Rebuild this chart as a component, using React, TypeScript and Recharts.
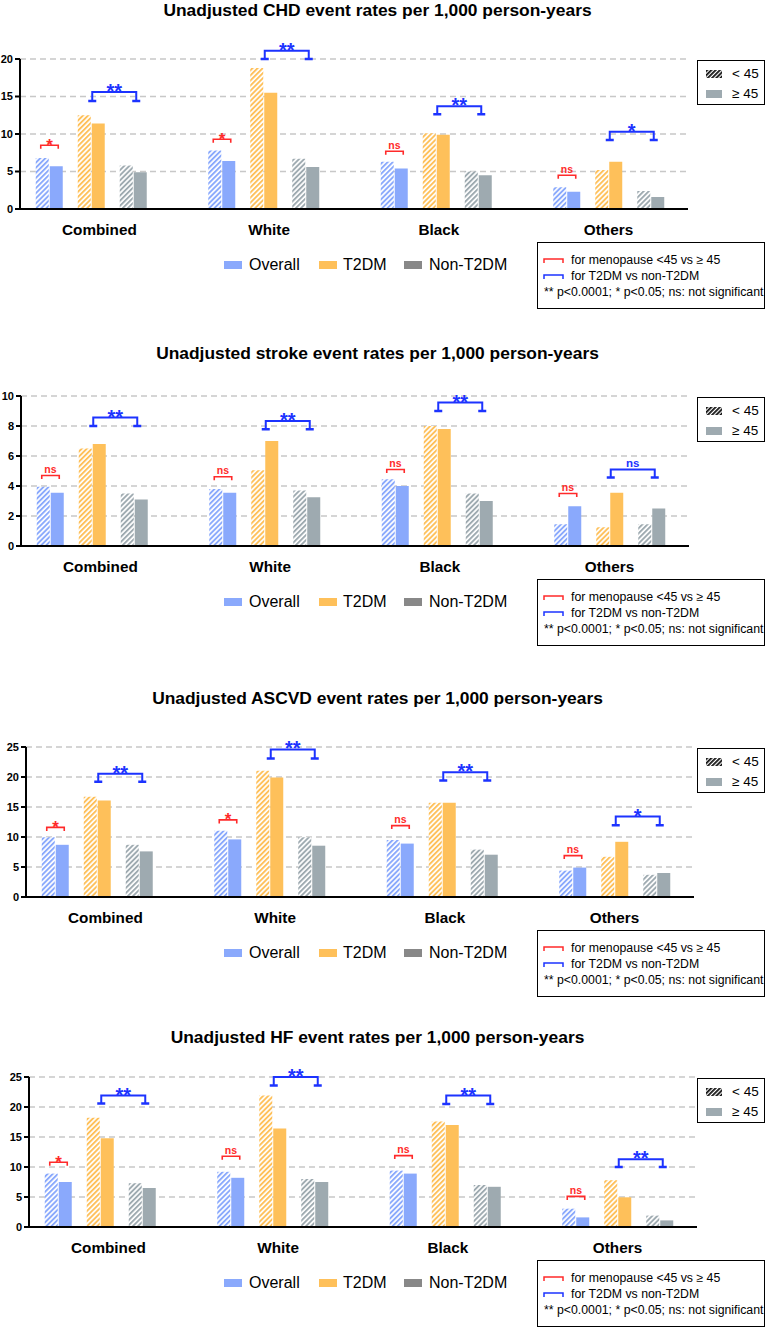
import React from 'react';
import { BarChart, Bar, XAxis, YAxis, CartesianGrid } from 'recharts';

const categories = ['Combined', 'White', 'Black', 'Others'];

// CHD event rates per 1,000 person-years
const chdOverallLt45 = [6.8, 7.8, 6.3, 2.9];
const chdOverallGe45 = [5.7, 6.4, 5.4, 2.3];
const chdT2dmLt45 = [12.5, 18.8, 10.1, 5.2];
const chdT2dmGe45 = [11.4, 15.5, 9.9, 6.3];
const chdNonLt45 = [5.8, 6.7, 5.0, 2.4];
const chdNonGe45 = [4.9, 5.6, 4.5, 1.6];
const chdMenoBracket = [8.5, 9.3, 7.7, 4.5];
const chdMenoSig = ['*', '*', 'ns', 'ns'];
const chdDmBracketTop = [15.6, 21.1, 13.7, 10.3];
const chdDmBracketFoot = [14.4, 20.0, 12.65, 9.2];
const chdDmSig = ['**', '**', '**', '*'];
const chdTicks = [0, 5, 10, 15, 20];

// Stroke
const strokeOverallLt45 = [3.95, 3.8, 4.45, 1.45];
const strokeOverallGe45 = [3.55, 3.55, 4.0, 2.65];
const strokeT2dmLt45 = [6.5, 5.05, 8.0, 1.25];
const strokeT2dmGe45 = [6.8, 7.0, 7.8, 3.55];
const strokeNonLt45 = [3.5, 3.7, 3.5, 1.45];
const strokeNonGe45 = [3.1, 3.25, 3.0, 2.5];
const strokeMenoBracket = [4.7, 4.62, 5.1, 3.5];
const strokeMenoSig = ['ns', 'ns', 'ns', 'ns'];
const strokeDmBracketTop = [8.56, 8.33, 9.56, 5.1];
const strokeDmBracketFoot = [8.0, 7.78, 9.0, 4.56];
const strokeDmSig = ['**', '**', '**', 'ns'];
const strokeTicks = [0, 2, 4, 6, 8, 10];

// ASCVD
const ascvdOverallLt45 = [9.95, 11.05, 9.5, 4.4];
const ascvdOverallGe45 = [8.7, 9.6, 8.9, 4.9];
const ascvdT2dmLt45 = [16.7, 21.05, 15.7, 6.7];
const ascvdT2dmGe45 = [16.1, 19.9, 15.7, 9.2];
const ascvdNonLt45 = [8.7, 9.95, 7.9, 3.7];
const ascvdNonGe45 = [7.6, 8.55, 7.05, 4.0];
const ascvdMenoBracket = [11.6, 12.85, 11.9, 6.9];
const ascvdMenoSig = ['*', '*', 'ns', 'ns'];
const ascvdDmBracketTop = [20.55, 24.6, 20.8, 13.4];
const ascvdDmBracketFoot = [19.2, 23.1, 19.4, 11.95];
const ascvdDmSig = ['**', '**', '**', '*'];
const ascvdTicks = [0, 5, 10, 15, 20, 25];

// HF
const hfOverallLt45 = [8.9, 9.2, 9.4, 3.05];
const hfOverallGe45 = [7.5, 8.2, 8.9, 1.6];
const hfT2dmLt45 = [18.2, 21.9, 17.6, 7.8];
const hfT2dmGe45 = [14.8, 16.4, 17.0, 4.95];
const hfNonLt45 = [7.3, 8.0, 7.0, 1.9];
const hfNonGe45 = [6.5, 7.5, 6.7, 1.1];
const hfMenoBracket = [10.8, 11.8, 11.9, 5.1];
const hfMenoSig = ['*', 'ns', 'ns', 'ns'];
const hfDmBracketTop = [21.9, 25.0, 21.9, 11.3];
const hfDmBracketFoot = [20.6, 23.6, 20.5, 10.0];
const hfDmSig = ['**', '**', '**', '**'];
const hfTicks = [0, 5, 10, 15, 20, 25];

const FONT = '"Liberation Sans", Arial, Helvetica, sans-serif';
const BLUE = '#8aa9fc';
const ORANGE = '#fec05a';
const GRAY = '#9eaab0';
const RED = '#ff2a2a';
const SIG_BLUE = '#1c33ff';
const BAR_GAP = 1;
const BAR_SIZE = 13;
const PLOT_W = 668;

const panels = [
  {
    id: 'chd', title: 'Unadjusted CHD event rates per 1,000 person-years', ticks: chdTicks,
    ovLo: chdOverallLt45, ovHi: chdOverallGe45, t2Lo: chdT2dmLt45, t2Hi: chdT2dmGe45, ntLo: chdNonLt45, ntHi: chdNonGe45,
    meno: chdMenoBracket, menoSig: chdMenoSig, dmTop: chdDmBracketTop, dmFoot: chdDmBracketFoot, dmSig: chdDmSig,
  },
  {
    id: 'stroke', title: 'Unadjusted stroke event rates per 1,000 person-years', ticks: strokeTicks,
    ovLo: strokeOverallLt45, ovHi: strokeOverallGe45, t2Lo: strokeT2dmLt45, t2Hi: strokeT2dmGe45, ntLo: strokeNonLt45, ntHi: strokeNonGe45,
    meno: strokeMenoBracket, menoSig: strokeMenoSig, dmTop: strokeDmBracketTop, dmFoot: strokeDmBracketFoot, dmSig: strokeDmSig,
  },
  {
    id: 'ascvd', title: 'Unadjusted ASCVD event rates per 1,000 person-years', ticks: ascvdTicks,
    ovLo: ascvdOverallLt45, ovHi: ascvdOverallGe45, t2Lo: ascvdT2dmLt45, t2Hi: ascvdT2dmGe45, ntLo: ascvdNonLt45, ntHi: ascvdNonGe45,
    meno: ascvdMenoBracket, menoSig: ascvdMenoSig, dmTop: ascvdDmBracketTop, dmFoot: ascvdDmBracketFoot, dmSig: ascvdDmSig,
  },
  {
    id: 'hf', title: 'Unadjusted HF event rates per 1,000 person-years', ticks: hfTicks,
    ovLo: hfOverallLt45, ovHi: hfOverallGe45, t2Lo: hfT2dmLt45, t2Hi: hfT2dmGe45, ntLo: hfNonLt45, ntHi: hfNonGe45,
    meno: hfMenoBracket, menoSig: hfMenoSig, dmTop: hfDmBracketTop, dmFoot: hfDmBracketFoot, dmSig: hfDmSig,
  },
];

// top = pixel of highest y tick, axisX = y axis line, titleY = title centre
const layouts = [
  { top: 59, axisX: 20, titleY: 10 },
  { top: 396, axisX: 21, titleY: 353 },
  { top: 747, axisX: 26, titleY: 698 },
  { top: 1077, axisX: 29, titleY: 1037 },
];

const CatTick = (props: any) => {
  const { x, y, payload, index } = props;
  return (
    <text x={x + (3 - index) * 2.8} y={y + 20} textAnchor="middle" dominantBaseline="central"
      fontWeight="bold" fontSize={15.3} fontFamily={FONT} fill="#000">
      {payload.value}
    </text>
  );
};

const yOf = (p: any, v: number) => p.y + p.height - (v * p.height) / p.value;

const Panel = ({ d, lay }: { d: any; lay: any }) => {
  const rows = categories.map((c, i) => ({
    name: c, ovLo: d.ovLo[i], ovHi: d.ovHi[i], t2Lo: d.t2Lo[i], t2Hi: d.t2Hi[i], ntLo: d.ntLo[i], ntHi: d.ntHi[i],
  }));
  const T = lay.top;
  const yMax = d.ticks[d.ticks.length - 1];

  const menoShape = (p: any) => {
    const i = categories.indexOf(p.payload.name);
    const yb = yOf(p, d.meno[i]);
    const x1 = p.x - BAR_GAP - p.width / 2 - 1.5;
    const x2 = p.x + p.width / 2 + 2;
    const lbl = d.menoSig[i];
    const star = lbl !== 'ns';
    return (
      <g>
        <rect x={p.x} y={p.y} width={p.width} height={p.height} fill={BLUE} />
        <path d={`M${x1},${yb + 3.5}V${yb}H${x2}V${yb + 3.5}`} fill="none" stroke={RED} strokeWidth={1.6} />
        <text x={(x1 + x2) / 2} y={star ? yb + 5.5 : yb - 2.5} textAnchor="middle" fill={RED}
          fontWeight="bold" fontSize={star ? 17 : 10.5} fontFamily={FONT}>{lbl}</text>
      </g>
    );
  };

  const dmShape = (p: any) => {
    const i = categories.indexOf(p.payload.name);
    const yt = yOf(p, d.dmTop[i]);
    const yf = yOf(p, d.dmFoot[i]);
    const nonC = p.x - BAR_GAP / 2;
    const c1 = nonC - 3 * (p.width + BAR_GAP) + 1;
    const c2 = nonC + 3;
    const lbl = d.dmSig[i];
    const star = lbl !== 'ns';
    return (
      <g>
        <rect x={p.x} y={p.y} width={p.width} height={p.height} fill={GRAY} />
        <path d={`M${c1},${yf}V${yt}H${c2}V${yf}`} fill="none" stroke={SIG_BLUE} strokeWidth={2} />
        <path d={`M${c1 - 4},${yf}H${c1 + 4}M${c2 - 4},${yf}H${c2 + 4}`} stroke={SIG_BLUE} strokeWidth={2.5} />
        <text x={(c1 + c2) / 2} y={star ? yt + 6 : yt - 3} textAnchor="middle" fill={SIG_BLUE}
          fontWeight="bold" fontSize={star ? 20 : 11.5} fontFamily={FONT}>{lbl}</text>
      </g>
    );
  };

  const hatch = (name: string, color: string) => (
    <pattern key={name} id={`${d.id}-${name}`} width={3.6} height={3.6} patternUnits="userSpaceOnUse"
      patternTransform="rotate(45)">
      <rect width={3.6} height={3.6} fill="#fff" />
      <rect width={1.9} height={3.6} fill={color} />
    </pattern>
  );

  return (
    <>
      <div style={{
        position: 'absolute', left: 0, width: 755, top: lay.titleY - 11, height: 22, lineHeight: '22px',
        textAlign: 'center', fontWeight: 'bold', fontSize: 17.4, fontFamily: FONT, color: '#000',
      }}>{d.title}</div>
      <div style={{ position: 'absolute', left: 0, top: T - 40 }}>
        <BarChart width={766} height={240} data={rows} barGap={BAR_GAP} barSize={BAR_SIZE}
          margin={{ top: 40, right: 766 - lay.axisX - PLOT_W, left: 0, bottom: 10 }}>
          <defs>
            {hatch('blue', BLUE)}
            {hatch('orange', ORANGE)}
            {hatch('gray', GRAY)}
          </defs>
          <CartesianGrid vertical={false} stroke="#c8c8c8" strokeDasharray="6 4" strokeWidth={1.5} />
          <XAxis dataKey="name" height={40} interval={0} padding={{ left: -15.25, right: -6.75 }}
            axisLine={{ stroke: '#000', strokeWidth: 2 }} tickLine={false} tickSize={0} tickMargin={0}
            tick={<CatTick />} />
          <YAxis width={lay.axisX} domain={[0, yMax]} ticks={d.ticks} interval={0} tickSize={5} tickMargin={2}
            axisLine={{ stroke: '#000', strokeWidth: 2 }} tickLine={{ stroke: '#000', strokeWidth: 2 }}
            tick={{ fill: '#000', fontSize: 11, fontWeight: 'bold', fontFamily: FONT }} />
          <Bar dataKey="ovLo" fill={`url(#${d.id}-blue)`} isAnimationActive={false} />
          <Bar dataKey="ovHi" fill={BLUE} shape={menoShape} isAnimationActive={false} />
          <Bar dataKey="gap1" fill="none" isAnimationActive={false} />
          <Bar dataKey="t2Lo" fill={`url(#${d.id}-orange)`} isAnimationActive={false} />
          <Bar dataKey="t2Hi" fill={ORANGE} isAnimationActive={false} />
          <Bar dataKey="gap2" fill="none" isAnimationActive={false} />
          <Bar dataKey="ntLo" fill={`url(#${d.id}-gray)`} isAnimationActive={false} />
          <Bar dataKey="ntHi" fill={GRAY} shape={dmShape} isAnimationActive={false} />
        </BarChart>
      </div>

      {/* group legend */}
      {[
        { label: 'Overall', color: BLUE, sx: 224, tx: 249 },
        { label: 'T2DM', color: ORANGE, sx: 319, tx: 343 },
        { label: 'Non-T2DM', color: '#888888', sx: 404, tx: 429 },
      ].map((it) => (
        <React.Fragment key={it.label}>
          <div style={{ position: 'absolute', left: it.sx, top: T + 202, width: 18, height: 8, background: it.color }} />
          <div style={{
            position: 'absolute', left: it.tx, top: T + 196, height: 20, lineHeight: '20px',
            fontSize: 16, fontFamily: FONT, color: '#000', whiteSpace: 'nowrap',
          }}>{it.label}</div>
        </React.Fragment>
      ))}

      {/* significance legend box */}
      <div style={{
        position: 'absolute', left: 537, top: T + 183, width: 228, height: 67, border: '1.5px solid #000',
        boxSizing: 'border-box', fontFamily: FONT, fontSize: 12.3, color: '#000',
      }}>
        {[
          { c: RED, t: 'for menopause <45 vs ≥ 45', y: 18 },
          { c: SIG_BLUE, t: 'for T2DM vs non-T2DM', y: 34 },
        ].map((r) => (
          <React.Fragment key={r.t}>
            <svg style={{ position: 'absolute', left: 5, top: r.y - 3 }} width={21} height={6}>
              <path d="M1,5V1H20V5" fill="none" stroke={r.c} strokeWidth={1.5} />
            </svg>
            <div style={{ position: 'absolute', left: 33, top: r.y - 9, height: 16, lineHeight: '16px', whiteSpace: 'nowrap' }}>{r.t}</div>
          </React.Fragment>
        ))}
        <div style={{ position: 'absolute', left: 6, top: 50 - 9, height: 16, lineHeight: '16px', whiteSpace: 'nowrap' }}>
          ** p&lt;0.0001; * p&lt;0.05; ns: not significant
        </div>
      </div>

      {/* age legend box */}
      <div style={{
        position: 'absolute', left: 697, top: T + 1, width: 68, height: 45, border: '1.5px solid #000',
        boxSizing: 'border-box', fontFamily: FONT, fontSize: 13.5, color: '#000',
      }}>
        <svg style={{ position: 'absolute', left: 8, top: 9 }} width={16} height={8}>
          <defs>
            <pattern id={`${d.id}-black`} width={3} height={3} patternUnits="userSpaceOnUse" patternTransform="rotate(45)">
              <rect width={3} height={3} fill="#fff" />
              <rect width={1.8} height={3} fill="#111" />
            </pattern>
          </defs>
          <rect width={16} height={8} fill={`url(#${d.id}-black)`} />
        </svg>
        <div style={{ position: 'absolute', left: 34, top: 4, height: 18, lineHeight: '18px', whiteSpace: 'nowrap' }}>&lt; 45</div>
        <div style={{ position: 'absolute', left: 8, top: 29, width: 16, height: 8, background: GRAY }} />
        <div style={{ position: 'absolute', left: 34, top: 24, height: 18, lineHeight: '18px', whiteSpace: 'nowrap' }}>≥ 45</div>
      </div>
    </>
  );
};

export default function App() {
  return (
    <div style={{ position: 'absolute', left: 0, top: 0, width: 766, height: 1329, background: '#fff', fontFamily: FONT }}>
      {panels.map((d, i) => (
        <Panel key={d.id} d={d} lay={layouts[i]} />
      ))}
    </div>
  );
}
